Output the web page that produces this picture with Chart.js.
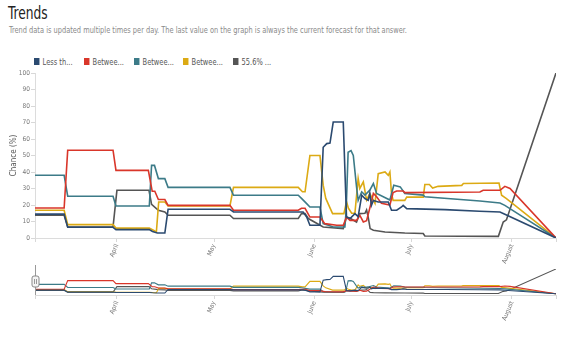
<!DOCTYPE html>
<html>
<head>
<meta charset="utf-8">
<script src="https://cdn.jsdelivr.net/npm/chart.js@4.4.1/dist/chart.umd.min.js"></script>
<style>
html,body{margin:0;padding:0;background:#fff;}
body{width:584px;height:338px;position:relative;overflow:hidden;font-family:"DejaVu Sans Condensed","Liberation Sans",sans-serif;}
#title{position:absolute;left:8px;top:3px;font-size:17px;color:#222;line-height:20px;transform:scaleX(0.8);transform-origin:0 0;}
#sub{position:absolute;left:9px;top:24px;font-size:9.5px;color:#8a8a8a;line-height:11px;white-space:nowrap;transform:scaleX(0.775);transform-origin:0 0;}
#legend{position:absolute;left:34px;top:57px;height:10px;font-size:9.5px;color:#555;line-height:10px;}
.item{position:absolute;top:0;white-space:nowrap;transform:scaleX(0.78);transform-origin:0 0;}
.sw{display:inline-block;width:7px;height:7px;margin-right:4px;vertical-align:0px;}
canvas{position:absolute;left:0;top:0;}
</style>
</head>
<body>
<div id="title">Trends</div>
<div id="sub">Trend data is updated multiple times per day. The last value on the graph is always the current forecast for that answer.</div>
<div id="legend"></div>
<canvas id="main" width="584" height="338"></canvas>
<canvas id="nav" width="584" height="338"></canvas>
<script>
// x values are days relative to April 1
const xMin = -25.3, xMax = 135.6;
const monthTicks = [0, 30, 61, 91, 122];
const monthLabels = ['April', 'May', 'June', 'July', 'August'];
const seriesNames = ['Less th...', 'Betwee...', 'Betwee...', 'Betwee...', '55.6% ...'];
const seriesColors = ['#2b4a70', '#d9362a', '#3c7b88', '#dcaa14', '#555555'];

const lessDays = [-25.3,-16.3,-15.2,-1.2,-0.3,10,11,12.5,14.8,15.8,34.9,36,57.5,58.6,59.6,62.7,63.7,64.8,65.8,66.8,69.9,70.9,72,73.5,74.5,75.6,76.6,77.6,78.1,78.6,79.2,80.7,83.8,84.8,86.4,87.9,88.4,89.5,101.3,112,118.3,119.8,135.6];
const lessVals = [14.5,14.5,6.5,6.5,5.1,5.1,4,3,3,17.4,17.4,15.8,15.8,12.7,7.7,7.7,55,57.2,57.5,70.3,70.3,12.7,11.8,14.8,13,25.9,23.9,22.8,27,19.8,22.8,21.8,21.8,16.8,16.8,18.8,19.8,17.8,17.2,16.2,15.8,14.4,0];

const redDays = [-25.3,-16.3,-15.2,-1.2,-0.3,9.7,10.9,11.7,12.8,14.8,15.8,34.9,36,56,57,58.1,59.6,62.7,64.2,67.9,69.9,70.9,72,74,75,76.1,77.1,78.6,79.2,80.2,81.7,84.3,85.3,86.4,88.4,88.9,112.1,113.1,118.3,119.8,121.4,135.6];
const redVals = [18.2,18.2,53.2,53.2,41,41,28.3,28.3,23.3,23.3,19.8,19.8,16.8,16.8,18,18,12.7,12.7,8.7,7.7,7.7,12.7,10.7,10.7,13.8,9.7,10.5,22,27,25,21,20,27.5,28.5,28.5,27.5,27.9,28.9,28.9,31.3,30,0];

const tealDays = [-25.3,-16.3,-15.2,-1.2,-0.3,10,10.7,11.6,12.8,14.8,15.8,34.9,36,56,57,58.6,59.6,62.7,63.7,65.3,66.8,70.4,70.8,71.4,72.3,73,74,74.5,75.6,76.6,78.1,79.2,80.2,84.3,85.5,87.5,88.9,94.6,95.1,112.1,118.3,119.8,135.6];
const tealVals = [38,38,25.3,25.3,19.4,19.4,44,44,36,36,30.7,30.7,25.9,25.9,24,20.8,18.8,18.8,8.7,7.7,6.7,6.7,16.8,52,53,50,31,22.8,28,26,29,33,27,23,32,31,27,26,25,22.4,21.2,19.8,0];

const goldDays = [-25.3,-16.3,-15.2,-1.2,-0.3,10,11.7,12.2,12.9,14.8,15.8,34.9,36,56,57.3,58.1,59.6,62.7,63.7,64.5,66.6,70.1,70.9,71.5,72.5,73.5,74.5,75,76.1,77.1,78.1,79.7,80.7,82.8,83.8,84.3,84.8,85.3,88.9,89.5,94.6,95.1,96.5,97.5,99.2,106.5,107,118,118.8,120.3,135.6];
const goldVals = [16.8,16.8,8.1,8.1,6,6,4.2,4,21.8,21.8,19.4,19.4,30.7,30.7,28,28,50,50,32,24,14.8,14.8,22,18,15,15,36,30,34,23,27,21,39,40,38,40,27,22.8,22.8,24.8,24.8,32.4,32.4,30.3,31.3,31.9,33,33.3,25.9,23.9,0];

const grayDays = [-25.3,-16.3,-15.2,-1.2,0,9.9,10.7,12.8,14.8,15.8,34.9,36,56,57,58.1,59.1,63.7,69.9,70.9,72,74,75,76.6,77.1,77.6,78.2,79.2,82.8,88.9,94.6,95.1,117.8,119.3,120.3,135.6];
const grayVals = [13.8,13.8,6.7,6.7,28.9,28.9,20.4,16.8,15.8,13.8,13.8,11.8,11.8,14.8,14.8,11.8,6.7,5.7,12.7,12,9.7,14.8,15,17,12.7,5.7,4.7,3.6,3,2.7,1.2,1,9.7,11,100];

const yTicks = [0,10,20,30,40,50,60,70,80,90,100];

const allDays = [lessDays, redDays, tealDays, goldDays, grayDays];
const allVals = [lessVals, redVals, tealVals, goldVals, grayVals];

function pts(d, v){ const n = Math.min(d.length, v.length); const o=[]; for(let i=0;i<n;i++) o.push({x:d[i], y:v[i]}); return o; }

// HTML legend
const lg = document.getElementById('legend');
seriesNames.forEach((n,i)=>{
  const it = document.createElement('div'); it.className='item'; it.style.left=(i*49.8)+'px';
  it.innerHTML = '<span class="sw" style="background:'+seriesColors[i]+'"></span>'+n;
  lg.appendChild(it);
});

Chart.defaults.font.family = '"DejaVu Sans Condensed","Liberation Sans",sans-serif';

function makeDatasets(w){
  return seriesNames.map((n,i)=>({
    label:n, data: pts(allDays[i], allVals[i]), borderColor: seriesColors[i], backgroundColor: seriesColors[i],
    borderWidth: w, pointRadius:0, tension:0, fill:false
  }));
}

function xScale(heightBelow){
  return {
    type:'linear', min:xMin, max:xMax,
    afterBuildTicks: s => { s.ticks = [xMin].concat(monthTicks).concat([xMax]).map(v=>({value:v})); },
    afterFit: s => { s.height = heightBelow; },
    ticks:{ autoSkip:false, minRotation:68, maxRotation:68, padding:1, color:'#777', font:{size:6.5},
      callback: v => { const k = monthTicks.indexOf(v); return k>=0 ? monthLabels[k] : ''; } },
    grid:{ drawOnChartArea:false, drawTicks:true, tickLength:4, color:'#d8d8d8' },
    border:{ color:'#dcdcdc' }
  };
}

new Chart(document.getElementById('main'), {
  type:'line',
  data:{ datasets: makeDatasets(1.6) },
  options:{
    responsive:false, animation:false, devicePixelRatio:1,
    layout:{ padding:{ left:0, right:28, top:73, bottom:0 } },
    plugins:{ legend:{display:false}, tooltip:{enabled:false} },
    scales:{
      x: xScale(100),
      y:{ min:0, max:100,
        afterBuildTicks: s => { s.ticks = yTicks.map(v=>({value:v})); },
        afterFit: s => { s.width = 35; },
        ticks:{ color:'#777', font:{size:6.5}, padding:1 },
        grid:{ drawOnChartArea:false, drawTicks:true, tickLength:4, color:'#d8d8d8' },
        border:{ color:'#dcdcdc' },
        title:{ display:true, text:'Chance (%)', color:'#555', font:{size:8}, padding:{top:9,bottom:0} }
      }
    }
  }
});

const navHandle = {
  id:'navHandle',
  afterDraw(c){
    const ctx=c.ctx, a=c.chartArea, x=Math.round(a.left)+0.5;
    ctx.save();
    ctx.strokeStyle='#999'; ctx.lineWidth=1;
    ctx.beginPath(); ctx.moveTo(x, a.top-4); ctx.lineTo(x, a.bottom); ctx.stroke();
    ctx.fillStyle='#f4f4f4'; ctx.strokeStyle='#888';
    ctx.beginPath(); ctx.roundRect(x-3.5, a.top+7, 7, 11, 2); ctx.fill(); ctx.stroke();
    ctx.strokeStyle='#999';
    ctx.beginPath(); ctx.moveTo(x-1, a.top+10); ctx.lineTo(x-1, a.top+15); ctx.moveTo(x+1, a.top+10); ctx.lineTo(x+1, a.top+15); ctx.stroke();
    ctx.restore();
  }
};

new Chart(document.getElementById('nav'), {
  type:'line',
  data:{ datasets: makeDatasets(1.1) },
  options:{
    responsive:false, animation:false, devicePixelRatio:1,
    layout:{ padding:{ left:35, right:28, top:269, bottom:0 } },
    plugins:{ legend:{display:false}, tooltip:{enabled:false} },
    scales:{
      x: xScale(43),
      y:{ display:false, min:-5, max:100 }
    }
  },
  plugins:[navHandle]
});
</script>
</body>
</html>
